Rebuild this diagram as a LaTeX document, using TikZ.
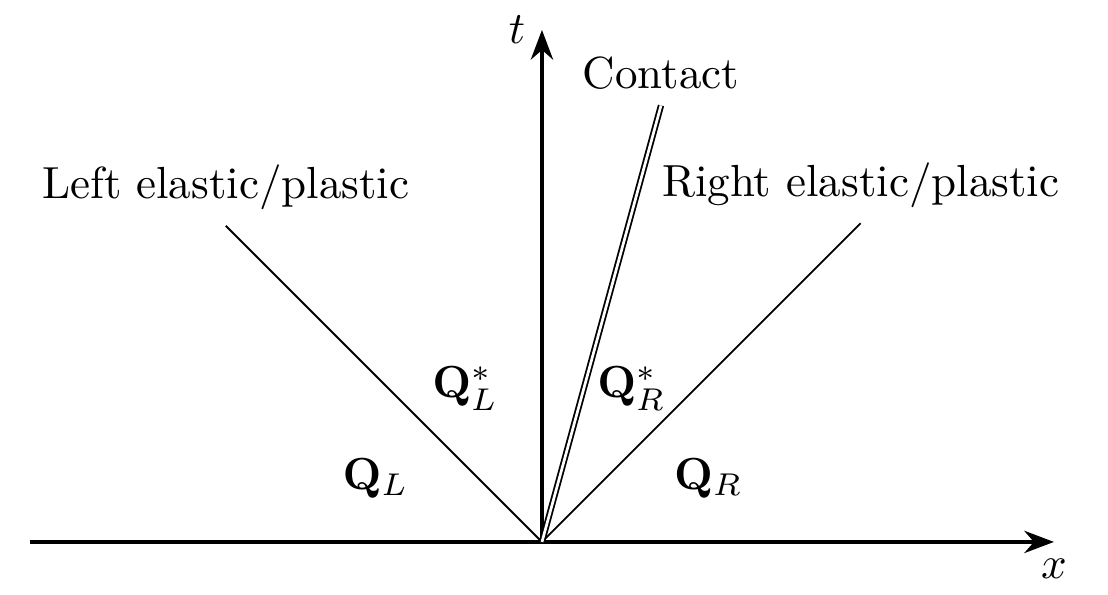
\documentclass[tikz,border=0pt]{standalone}
\usetikzlibrary{arrows.meta}
\begin{document}
\begin{tikzpicture}[
  axis/.style={thick,-{Stealth}},
  wave/.style={thin},
  contactline/.style={thin,double},
  lbl/.style={inner sep=3.33pt}
]
\useasboundingbox (-4.234,-0.414) rectangle (4.422,4.234);
\coordinate (O) at (0,0);
\coordinate (xl) at (-4,0);
\coordinate (xr) at (4,0);
\coordinate (tt) at (0,4);
\coordinate (le) at (-2.47,2.47);
\coordinate (re) at (2.49,2.49);
\coordinate (ce) at (0.93,3.41);
\draw[axis] (xl) -- (xr) node[below] (xlab) {$x$};
\draw[axis] (O) -- (tt) node[left] (tlab) {$t$};
\draw[wave] (O) -- (le) node[above] (llab) {Left elastic/plastic};
\draw[wave] (O) -- (re) node[above] (rlab) {Right elastic/plastic};
\draw[contactline] (O) -- (ce) node[above] (clab) {Contact};
\node (QL) at (-1.3,0.5) {$\mathbf{Q}_L$};
\node (QLs) at (-0.6,1.2) {$\mathbf{Q}_L^*$};
\node (QRs) at (0.7,1.2) {$\mathbf{Q}_R^*$};
\node (QR) at (1.3,0.5) {$\mathbf{Q}_R$};
\end{tikzpicture}
\end{document}
